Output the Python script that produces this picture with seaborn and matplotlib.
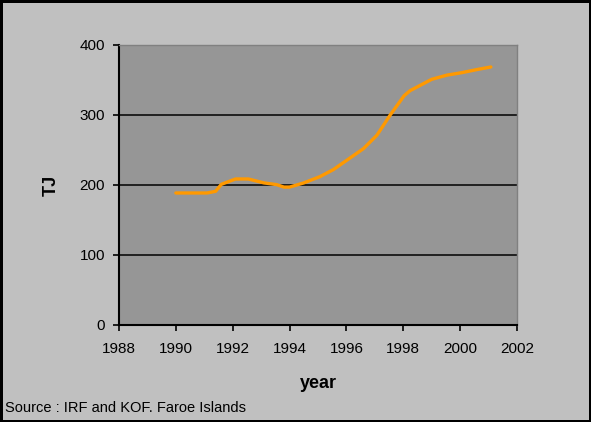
import matplotlib
matplotlib.use("Agg")
import matplotlib.pyplot as plt
import numpy as np
import pandas as pd
import seaborn as sns

# values
years = [1990.0, 1991.1, 1991.4, 1991.6, 1992.1, 1992.55, 1993.1, 1993.55, 1993.8,
         1994.0, 1994.5, 1995.07, 1995.54, 1996.07, 1996.6, 1997.07, 1997.54,
         1998.03, 1998.24, 1999.0, 1999.54, 2000.06, 2000.6, 2001.08]
tj = [188.6, 188.6, 191, 201, 208.6, 208.6, 203, 200.5, 197,
      197, 203, 212, 222, 237, 252, 271, 300,
      327.6, 334.8, 351, 357, 360.5, 365, 368.6]
x_ticks = [1988, 1990, 1992, 1994, 1996, 1998, 2000, 2002]
y_ticks = [0, 100, 200, 300, 400]

df = pd.DataFrame({"year": years, "TJ": tj})

sns.set_style("white")
plt.rcParams["font.family"] = ["Liberation Sans", "DejaVu Sans"]
plt.rcParams["text.color"] = "black"
plt.rcParams["axes.labelcolor"] = "black"

fig = plt.figure(figsize=(5.91, 4.22), dpi=100)
fig.patch.set_facecolor("#c0c0c0")
fig.patch.set_edgecolor("black")
fig.patch.set_linewidth(2.5)
ax = fig.add_axes([119 / 591, 1 - 325 / 422, (517 - 119) / 591, (325 - 45) / 422])
ax.set_facecolor("#969696")

for v in y_ticks[1:-1]:
    ax.axhline(v, color="black", lw=1.1, zorder=1)

sns.lineplot(data=df, x="year", y="TJ", color="#ff9900", lw=2.4, ax=ax, zorder=3)

ax.set_xlim(1988, 2002)
ax.set_ylim(0, 400)
ax.set_xticks(x_ticks)
ax.set_yticks(y_ticks)
ax.tick_params(axis="both", direction="out", length=4, width=1.2, color="black",
               labelsize=11, labelcolor="black", bottom=True, left=True)
ax.tick_params(axis="x", pad=8)
ax.tick_params(axis="y", pad=6)

for s in ["left", "bottom"]:
    ax.spines[s].set_color("black")
    ax.spines[s].set_linewidth(1.5)
for s in ["top", "right"]:
    ax.spines[s].set_color("#808080")
    ax.spines[s].set_linewidth(1.0)

ax.set_xlabel("year", fontsize=13, fontweight="bold", color="black")
ax.set_ylabel("TJ", fontsize=13, fontweight="bold", color="black")
ax.xaxis.label.set_va("center")
ax.yaxis.label.set_va("center")
ax.xaxis.set_label_coords(0.5, (325 - 383) / 280)
ax.yaxis.set_label_coords((51 - 119) / 398, 0.5)

fig.text(5 / 591, 1 - 408 / 422, "Source : IRF and KOF. Faroe Islands",
         fontsize=10.5, va="center", ha="left", color="black")

fig.savefig("out.png", dpi=100, facecolor=fig.get_facecolor(),
            edgecolor=fig.get_edgecolor())
